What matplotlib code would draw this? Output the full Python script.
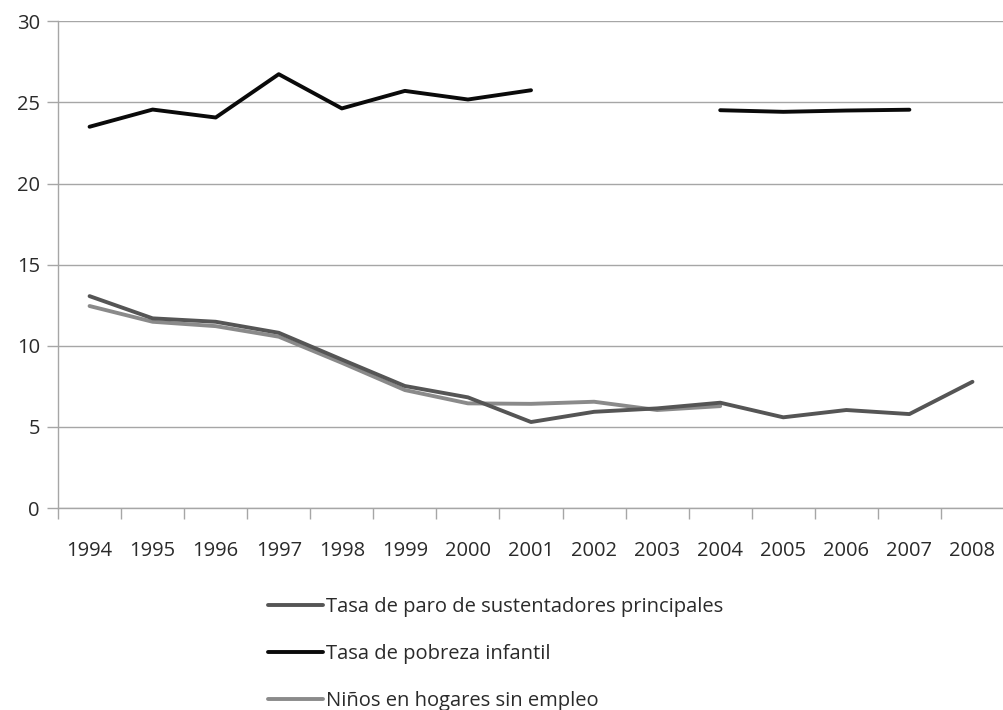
import matplotlib.pyplot as plt
import numpy as np

years = ['1994', '1995', '1996', '1997', '1998', '1999', '2000', '2001',
         '2002', '2003', '2004', '2005', '2006', '2007', '2008']

# Tasa de paro de sustentadores principales
paro = [13.06, 11.69, 11.48, 10.8, 9.15, 7.52, 6.82, 5.3,
        5.93, 6.14, 6.49, 5.59, 6.04, 5.79, 7.78]
# Tasa de pobreza infantil (sin datos 2002, 2003 y 2008)
pobreza = [23.5, 24.56, 24.07, 26.74, 24.63, 25.71, 25.18, 25.75,
           np.nan, np.nan, 24.52, 24.42, 24.5, 24.55, np.nan]
# Niños en hogares sin empleo (hasta 2004)
ninos = [12.45, 11.48, 11.21, 10.56, 8.95, 7.27, 6.45, 6.42,
         6.55, 6.04, 6.28, np.nan, np.nan, np.nan, np.nan]

labels = ['Tasa de paro de sustentadores principales',
          'Tasa de pobreza infantil',
          'Niños en hogares sin empleo']

plt.rcParams['font.family'] = ['Open Sans', 'DejaVu Sans']

fig = plt.figure(figsize=(10.04, 7.10), dpi=100)
ax = fig.add_axes([0.0578, 0.2845, 0.9422, 0.6855])

x = np.arange(len(years))
grid_color = '#a6a6a6'
text_color = '#2a2a2a'

l1, = ax.plot(x, paro, color='#555555', lw=2.8, solid_capstyle='round', zorder=3)
l2, = ax.plot(x, pobreza, color='#0a0a0a', lw=2.8, solid_capstyle='round', zorder=3)
l3, = ax.plot(x, ninos, color='#8a8a8a', lw=2.8, solid_capstyle='round', zorder=2)

ax.set_xlim(-0.5, len(years) - 0.5)
ax.set_ylim(0, 30)
ax.set_yticks(np.arange(0, 31, 5))
ax.yaxis.grid(True, color=grid_color, lw=1)
ax.set_axisbelow(True)

# category axis: tick marks between categories, labels centred
ax.set_xticks(x)
ax.set_xticklabels(years)
ax.set_xticks(np.arange(-0.5, len(years)), minor=True)
ax.tick_params(axis='x', which='major', length=0, pad=24, labelsize=14.5, labelcolor=text_color)
ax.tick_params(axis='x', which='minor', length=8, width=1, color=grid_color, direction='out')
ax.tick_params(axis='y', length=8, width=1, color=grid_color, pad=5, labelsize=14.5, labelcolor=text_color)

for side in ['top', 'right']:
    ax.spines[side].set_visible(False)
for side in ['left', 'bottom']:
    ax.spines[side].set_color(grid_color)
    ax.spines[side].set_linewidth(1)

fig.legend([l1, l2, l3], labels, loc='upper left', bbox_to_anchor=(0.267, 0.159),
           frameon=False, fontsize=14.5, handlelength=2.75, handletextpad=0.15,
           labelspacing=1.35, borderaxespad=0, borderpad=0, labelcolor=text_color)

fig.savefig('out.png', dpi=100)
